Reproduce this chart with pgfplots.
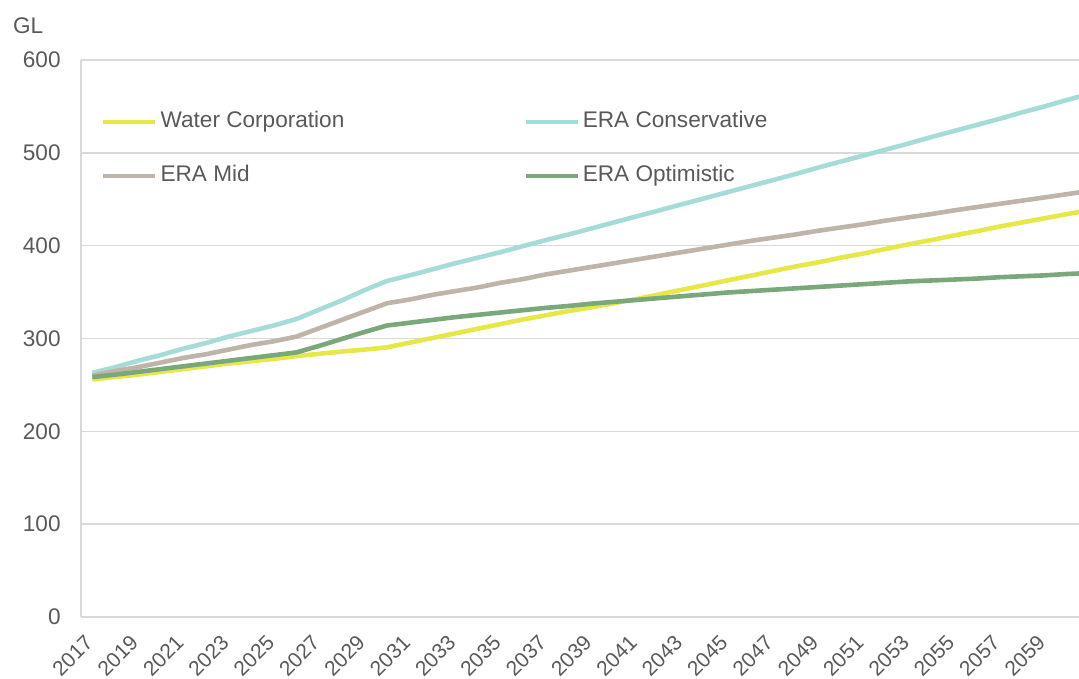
\documentclass[border=0pt]{standalone}
\usepackage{fontspec}
\setmainfont{Liberation Sans}
\usepackage{pgfplots}
\pgfplotsset{compat=1.18}
\definecolor{wcY}{RGB}{230,232,74}
\definecolor{eraC}{RGB}{166,220,216}
\definecolor{eraM}{RGB}{190,180,170}
\definecolor{eraO}{RGB}{122,168,122}
\definecolor{gridc}{RGB}{217,217,217}
\definecolor{txt}{RGB}{89,89,89}
\begin{document}
\fontsize{11.3}{13.5}\selectfont
\begin{tikzpicture}
\begin{axis}[
  scale only axis,
  width=499pt, height=278.5pt,
  xmin=2016.5, xmax=2060.52,
  ymin=0, ymax=600,
  xtick={2017,2019,...,2059},
  ytick={0,100,...,600},
  axis lines=left,
  axis line style={draw=gridc, line width=0.7pt, -},
  ymajorgrids,
  grid style={draw=gridc, line width=0.7pt},
  major tick length=0pt,
  tick style={draw=none},
  /pgf/number format/assume math mode=true,
  /pgf/number format/1000 sep={},
  ticklabel style={font=\fontsize{11.3}{13.5}\selectfont, text=txt},
  yticklabel style={inner sep=0pt, xshift=-10pt, anchor=east},
  xticklabel style={font=\fontsize{10.5}{12.5}\selectfont, anchor=east, inner sep=0pt, xshift=-1.5pt, yshift=-11pt, rotate=45},
  legend columns=2,
  legend cell align=left,
  legend style={
    at={(axis description cs:0,1)}, anchor=north west,
    xshift=10pt, yshift=-24pt,
    draw=none, fill=none, inner sep=0pt, row sep=13pt,
    font=\fontsize{11.3}{13.5}\selectfont, text=txt,
    nodes={inner sep=1.6pt, text height=8pt, text depth=2.5pt},
    /tikz/every even column/.append style={column sep=88pt}
  },
  legend image code/.code={\draw[#1, line width=2pt, line cap=butt] (0pt,0pt) -- (26pt,0pt);},
  every axis plot/.append style={line width=2.3pt, line join=round, no markers},
]
\addplot[color=wcY] coordinates {
(2017,256) (2018,258.5) (2019,261) (2020,264) (2021,267) (2022,270) (2023,273) (2024,275.5) (2025,278) (2026,281)
(2027,283.5) (2028,286) (2029,288) (2030,290.5) (2031,295.5) (2032,300.5) (2033,305.5) (2034,310.5) (2035,315.5)
(2036,320.5) (2037,325) (2038,329.5) (2039,333.5) (2040,338) (2041,342.5) (2042,347.5) (2043,352.5) (2044,357.5)
(2045,362.5) (2046,367.5) (2047,372.5) (2048,377.5) (2049,382) (2050,387) (2051,391.5) (2052,396.5) (2053,401.5)
(2054,406) (2055,411) (2056,415.5) (2057,420.5) (2058,425) (2059,429.5) (2060,434) (2061,438.5)};
\addlegendentry{Water Corporation}
\addplot[color=eraC] coordinates {
(2017,263) (2018,269) (2019,276) (2020,282) (2021,289) (2022,295) (2023,302) (2024,308) (2025,314) (2026,321)
(2027,331) (2028,341) (2029,352) (2030,362) (2031,368) (2032,374.5) (2033,381) (2034,387) (2035,393) (2036,399.5)
(2037,406) (2038,412) (2039,418.5) (2040,425) (2041,431.5) (2042,438) (2043,444.5) (2044,451) (2045,457.5)
(2046,464) (2047,470.5) (2048,477) (2049,484) (2050,490.5) (2051,497) (2052,503.5) (2053,510) (2054,517)
(2055,523.5) (2056,530) (2057,536.5) (2058,543.5) (2059,550) (2060,557) (2061,563.5)};
\addlegendentry{ERA Conservative}
\addplot[color=eraM] coordinates {
(2017,260) (2018,265) (2019,269) (2020,274) (2021,279) (2022,283) (2023,288) (2024,293) (2025,297) (2026,302)
(2027,311) (2028,320) (2029,329) (2030,338) (2031,342) (2032,347) (2033,351) (2034,355) (2035,360) (2036,364)
(2037,369) (2038,373) (2039,377) (2040,381) (2041,385) (2042,389) (2043,393) (2044,397) (2045,401)
(2046,405) (2047,408.5) (2048,412) (2049,416) (2050,419.5) (2051,423) (2052,427) (2053,430.5) (2054,434)
(2055,438) (2056,441.5) (2057,445) (2058,448.5) (2059,452) (2060,455.5) (2061,459)};
\addlegendentry{ERA Mid}
\addplot[color=eraO] coordinates {
(2017,258.5) (2018,261) (2019,264) (2020,267) (2021,270) (2022,273) (2023,276) (2024,279) (2025,282) (2026,285)
(2027,292) (2028,299.5) (2029,307) (2030,314) (2031,317) (2032,320) (2033,323) (2034,325.5) (2035,328)
(2036,330.5) (2037,333) (2038,335) (2039,337.5) (2040,339.5) (2041,341.5) (2042,343.5) (2043,345.5) (2044,347.5)
(2045,349.5) (2046,351) (2047,352.5) (2048,354) (2049,355.5) (2050,357) (2051,358.5) (2052,360) (2053,361.5)
(2054,362.5) (2055,363.5) (2056,364.5) (2057,366) (2058,367) (2059,368) (2060,369.5) (2061,370.5)};
\addlegendentry{ERA Optimistic}
\coordinate (bl) at (rel axis cs:0,0);
\coordinate (tr) at (rel axis cs:1,1);
\coordinate (tl) at (rel axis cs:0,1);
\end{axis}
\node[anchor=base west, inner sep=0pt, text=txt, font=\fontsize{11.3}{13.5}\selectfont] at ([xshift=-34.15pt, yshift=13.5pt]tl) {GL};
\pgfresetboundingbox
\path[use as bounding box] ([xshift=-40.5pt, yshift=-31pt]bl) rectangle ([yshift=30pt]tr);
\end{tikzpicture}
\end{document}
